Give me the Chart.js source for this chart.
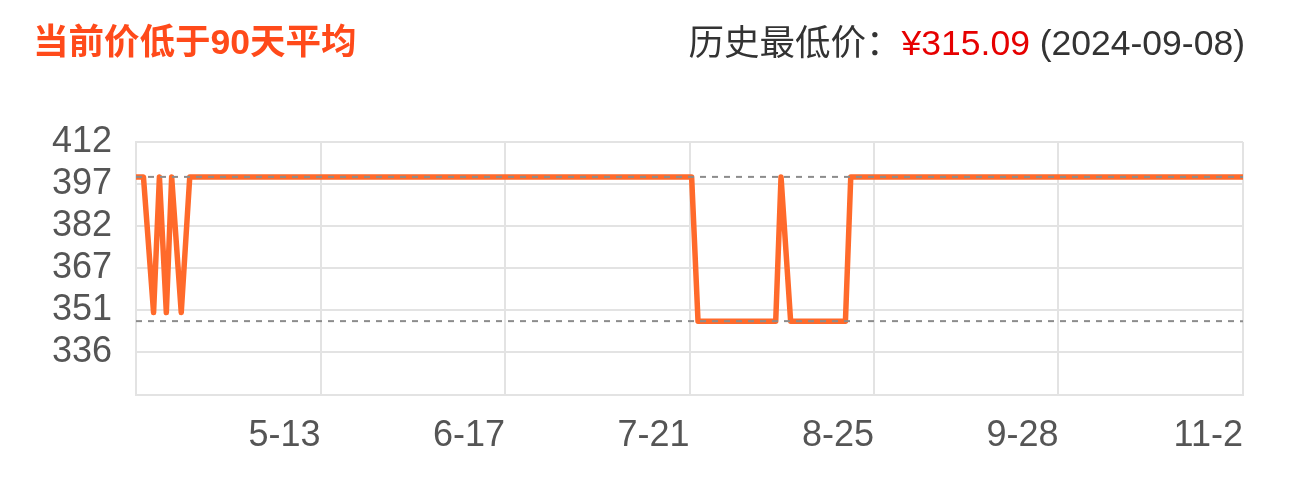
<!DOCTYPE html>
<html>
<head>
<meta charset="utf-8">
<script src="https://cdn.jsdelivr.net/npm/chart.js@4"></script>
<style>
  html, body { margin: 0; padding: 0; background: #fff; }
  #wrap { position: relative; width: 1290px; height: 493px; overflow: hidden; background: #fff; }
  #chart { position: absolute; left: 0; top: 0; }
  .hdr { position: absolute; white-space: nowrap; line-height: 35px; font-size: 35px;
         font-family: "Liberation Sans", "Noto Sans CJK SC", sans-serif; }
  #title { left: 33px; top: 25px; color: #ff4a1a; font-weight: bold; font-size: 35.5px; }
  #lowest { right: 45px; top: 26px; color: #333; font-size: 35.5px; }
  #lowest .p { color: #e60000; }
</style>
</head>
<body>
<div id="wrap">
  <canvas id="chart" width="1290" height="493"></canvas>
  <div id="title" class="hdr">当前价低于90天平均</div>
  <div id="lowest" class="hdr">历史最低价：<span class="p">¥315.09</span> (2024-09-08)</div>
</div>
<script>
// x positions are day offsets from 2024-04-08
const xTickDays   = [0, 34.67, 69.33, 104, 138.67, 173.33, 208];
const xTickLabels = ['', '5-13', '6-17', '7-21', '8-25', '9-28', '11-2'];
const yTickValues = [321.0, 336.2, 351.4, 366.6, 381.8, 397.0, 412.2];
const yTickLabels = ['', '336', '351', '367', '382', '397', '412'];
const priceDays = [0, 1.4, 3.3, 4.4, 5.7, 6.7, 8.5, 10.1, 104.4, 105.6, 120.2, 121.2, 123.0, 133.3, 134.3, 208];
const prices    = [399.6, 399.6, 350.6, 399.6, 350.6, 399.6, 350.6, 399.6, 399.6, 347.5, 347.5, 399.6, 347.5, 347.5, 399.6, 399.6];
const maxPrice = 399.6;
const minPrice = 347.5;
const xMin = 0, xMax = 208;

const priceData = priceDays.map((d, i) => ({ x: d, y: prices[i] }));
const refLine = v => [{ x: xMin, y: v }, { x: xMax, y: v }];

const gridColor = '#e3e3e3';
const tickFont = { family: '"Liberation Sans", "Noto Sans", sans-serif', size: 36 };

new Chart(document.getElementById('chart'), {
  type: 'line',
  data: {
    datasets: [
      { data: refLine(maxPrice), borderColor: '#8c8c8c', borderWidth: 2, borderDash: [6, 6], pointRadius: 0, fill: false },
      { data: refLine(minPrice), borderColor: '#8c8c8c', borderWidth: 2, borderDash: [6, 6], pointRadius: 0, fill: false },
      { data: priceData, borderColor: '#ff6a2b', borderWidth: 5.5, pointRadius: 0, fill: false,
        tension: 0, borderJoinStyle: 'round', borderCapStyle: 'butt' }
    ]
  },
  options: {
    responsive: false,
    devicePixelRatio: 1,
    animation: false,
    layout: { padding: { left: 0, right: 47, top: 142, bottom: 0 } },
    plugins: { legend: { display: false }, tooltip: { enabled: false }, title: { display: false } },
    scales: {
      x: {
        type: 'linear', min: xMin, max: xMax,
        afterBuildTicks: axis => { axis.ticks = xTickDays.map(v => ({ value: v })); },
        afterFit: s => { s.height = 98.5; },
        ticks: {
          autoSkip: false, maxRotation: 0, minRotation: 0, align: 'end',
          color: '#555', font: tickFont, padding: 20,
          callback: (v, i) => xTickLabels[i]
        },
        grid: { color: gridColor, lineWidth: 2, drawTicks: false },
        border: { color: gridColor, width: 2 }
      },
      y: {
        type: 'linear', min: yTickValues[0], max: yTickValues[yTickValues.length - 1],
        afterBuildTicks: axis => { axis.ticks = yTickValues.map(v => ({ value: v })); },
        afterFit: s => { s.width = 136; },
        ticks: {
          autoSkip: false, color: '#555', font: tickFont, padding: 24,
          callback: (v, i) => yTickLabels[i]
        },
        grid: { color: gridColor, lineWidth: 2, drawTicks: false },
        border: { color: gridColor, width: 2 }
      }
    }
  }
});
</script>
</body>
</html>
